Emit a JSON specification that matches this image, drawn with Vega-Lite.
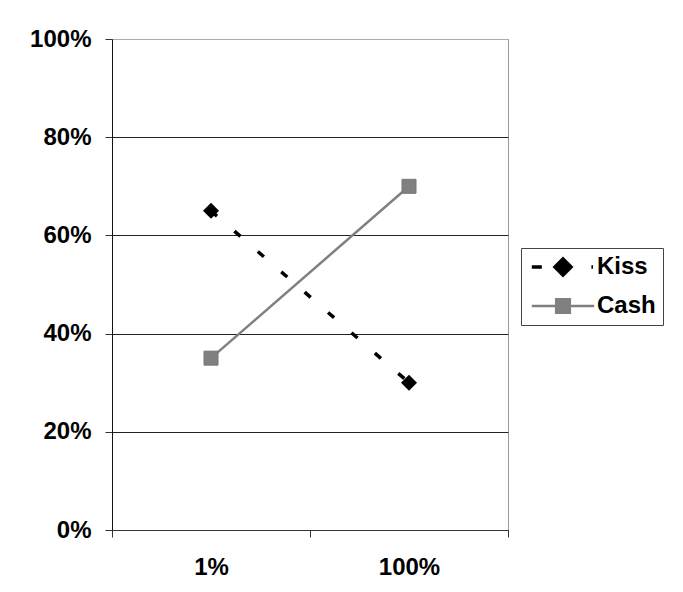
{
  "$schema": "https://vega.github.io/schema/vega-lite/v6.json",
  "autosize": "none",
  "width": 396,
  "height": 491,
  "padding": {"left": 112, "top": 39, "right": 175, "bottom": 62},
  "background": "white",
  "config": {
    "font": "Liberation Sans",
    "view": {"stroke": "#9a9a9a", "strokeWidth": 1}
  },
  "data": {
    "values": [
      {"series": "Kiss", "level": "1%", "value": 0.65},
      {"series": "Kiss", "level": "100%", "value": 0.30},
      {"series": "Cash", "level": "1%", "value": 0.35},
      {"series": "Cash", "level": "100%", "value": 0.70}
    ]
  },
  "encoding": {
    "x": {
      "field": "level", "type": "nominal", "sort": ["1%", "100%"],
      "scale": {"paddingInner": 0, "paddingOuter": 0},
      "axis": {
        "title": null, "labelAngle": 0, "tickBand": "extent",
        "tickSize": 7, "tickColor": "#333", "domainColor": "#333",
        "labelFont": "Liberation Sans", "labelFontWeight": "bold", "labelFontSize": 24,
        "labelColor": "#000", "labelPadding": 18, "grid": false
      }
    },
    "y": {
      "field": "value", "type": "quantitative",
      "scale": {"domain": [0, 1], "nice": false},
      "axis": {
        "title": null, "values": [0, 0.2, 0.4, 0.6, 0.8, 1], "format": ".0%",
        "tickSize": 7, "tickColor": "#333", "domainColor": "#111",
        "labelFont": "Liberation Sans", "labelFontWeight": "bold", "labelFontSize": 24,
        "labelColor": "#000", "labelPadding": 14,
        "grid": true,
        "gridColor": {"condition": {"test": "datum.value === 1", "value": "#aaaaaa"}, "value": "#222222"},
        "gridWidth": 1, "gridOpacity": 1
      }
    },
    "color": {
      "field": "series", "type": "nominal",
      "scale": {"domain": ["Kiss", "Cash"], "range": ["#000000", "#808080"]},
      "legend": {
        "title": null, "orient": "none", "legendX": 409, "legendY": 209,
        "strokeColor": "#444", "padding": 7, "rowPadding": 12,
        "labelFont": "Liberation Sans", "labelFontWeight": "bold", "labelFontSize": 24,
        "labelColor": "#000", "symbolSize": 256, "symbolOffset": 23, "labelOffset": 22,
        "symbolType": "M-3.9,0H3.9M-0.85,-0.85H0.85V0.85H-0.85Z",
        "encode": {
          "symbols": {
            "update": {
              "shape": {"signal": "datum.value === 'Kiss' ? 'M-3.9,0H-2.65M-1,0L0,-1L1,0L0,1ZM3.55,0H3.75' : 'M-3.9,0H3.9M-0.85,-0.85H0.85V0.85H-0.85Z'"},
              "fill": {"signal": "datum.value === 'Kiss' ? '#000000' : '#888888'"},
              "stroke": {"signal": "datum.value === 'Kiss' ? '#000000' : '#808080'"},
              "strokeWidth": {"signal": "datum.value === 'Kiss' ? 3.5 : 2.5"},
              "opacity": {"value": 1},
              "fillOpacity": {"value": 1},
              "strokeOpacity": {"value": 1}
            }
          }
        }
      }
    }
  },
  "layer": [
    {
      "transform": [{"filter": "datum.series === 'Kiss'"}],
      "mark": {"type": "line", "strokeWidth": 3.5, "strokeDash": [8, 23]}
    },
    {
      "transform": [{"filter": "datum.series === 'Cash'"}],
      "mark": {"type": "line", "strokeWidth": 2.5}
    },
    {
      "transform": [{"filter": "datum.series === 'Kiss'"}],
      "mark": {"type": "point", "filled": true, "opacity": 1, "shape": "diamond", "size": 256}
    },
    {
      "transform": [{"filter": "datum.series === 'Cash'"}],
      "mark": {"type": "point", "filled": true, "opacity": 1, "shape": "square", "size": 196, "stroke": "#777", "strokeWidth": 1}
    }
  ]
}
